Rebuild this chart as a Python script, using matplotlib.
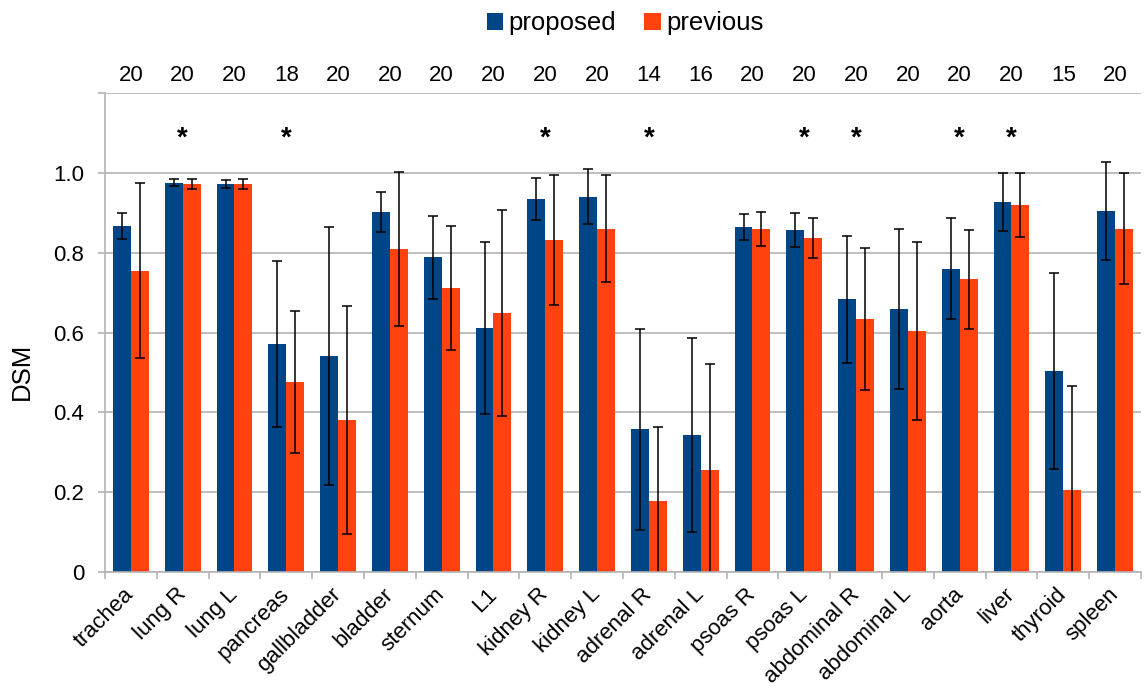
import numpy as np
import matplotlib
matplotlib.use("Agg")
import matplotlib.pyplot as plt
from matplotlib.transforms import blended_transform_factory, ScaledTranslation

plt.rcParams['font.family'] = ['Liberation Sans', 'DejaVu Sans']

organs = ["trachea", "lung R", "lung L", "pancreas", "gallbladder", "bladder",
          "sternum", "L1", "kidney R", "kidney L", "adrenal R", "adrenal L",
          "psoas R", "psoas L", "abdominal R", "abdominal L", "aorta", "liver",
          "thyroid", "spleen"]
n_cases = [20, 20, 20, 18, 20, 20, 20, 20, 20, 20, 14, 16, 20, 20, 20, 20, 20, 20, 15, 20]

proposed_mean = [0.867, 0.975, 0.972, 0.571, 0.541, 0.902, 0.788, 0.611, 0.935, 0.940,
                 0.358, 0.343, 0.865, 0.857, 0.683, 0.659, 0.760, 0.927, 0.504, 0.905]
proposed_sd = [0.032, 0.009, 0.011, 0.207, 0.324, 0.051, 0.103, 0.215, 0.052, 0.069,
               0.252, 0.242, 0.033, 0.043, 0.159, 0.200, 0.127, 0.073, 0.245, 0.123]

previous_mean = [0.755, 0.972, 0.972, 0.476, 0.381, 0.810, 0.712, 0.649, 0.832, 0.860,
                 0.178, 0.256, 0.860, 0.837, 0.634, 0.604, 0.733, 0.920, 0.206, 0.860]
previous_sd = [0.219, 0.013, 0.012, 0.179, 0.285, 0.193, 0.155, 0.257, 0.163, 0.134,
               0.185, 0.264, 0.043, 0.050, 0.178, 0.222, 0.125, 0.080, 0.261, 0.139]

significant = ["lung R", "pancreas", "kidney R", "adrenal R", "psoas L",
               "abdominal R", "aorta", "liver"]

BLUE = "#004586"
ORANGE = "#ff420e"
GRID = "#b3b3b3"
FS = 16

fig = plt.figure(figsize=(11.45, 6.89), dpi=100)
ax = fig.add_axes([0.0917, 0.1698, 0.9048, 0.6952])

x = np.arange(len(organs)) + 0.5
w = 0.345
err_kw = dict(ecolor="black", elinewidth=1.1, capsize=3.8, capthick=1.1)
ax.bar(x - w / 2, proposed_mean, w, color=BLUE, yerr=proposed_sd,
       error_kw=err_kw, label="proposed", zorder=2)
ax.bar(x + w / 2, previous_mean, w, color=ORANGE, yerr=previous_sd,
       error_kw=err_kw, label="previous", zorder=2)

ax.set_xlim(0, len(organs))
ax.set_ylim(0, 1.2)
ax.set_yticks([0, 0.2, 0.4, 0.6, 0.8, 1.0, 1.2])
ax.set_yticklabels(["0", "0.2", "0.4", "0.6", "0.8", "1.0", ""])
ax.yaxis.grid(True, color=GRID, linewidth=1.2, zorder=0)
ax.set_axisbelow(True)

# category boundaries carry the tick marks, names sit at the centres
ax.set_xticks(np.arange(len(organs) + 1))
ax.set_xticklabels([])
ax.set_xticks(x, minor=True)
ax.set_xticklabels(organs, minor=True, rotation=45, ha="right", va="center",
                   rotation_mode="anchor", fontsize=FS)
shift = ScaledTranslation(-6 / 100, 0, fig.dpi_scale_trans)
for lbl in ax.get_xticklabels(minor=True):
    lbl.set_transform(lbl.get_transform() + shift)
ax.tick_params(axis="x", which="minor", length=0, pad=14)
ax.tick_params(axis="x", which="major", length=5, color=GRID, width=1.2)
ax.tick_params(axis="y", length=5, color=GRID, width=1.2, pad=10, labelsize=FS)

for side in ["top", "right"]:
    ax.spines[side].set_visible(False)
for side in ["left", "bottom"]:
    ax.spines[side].set_color(GRID)
    ax.spines[side].set_linewidth(1.2)

ax.set_ylabel("DSM", fontsize=18.5)
ax.yaxis.set_label_coords(-0.069, 0.419)

trans = blended_transform_factory(ax.transData, ax.transAxes)
for xi, n in zip(x, n_cases):
    ax.text(xi, 1.015, str(n), transform=trans, ha="center", va="bottom",
            fontsize=FS, clip_on=False)

for xi, organ in zip(x, organs):
    if organ in significant:
        ax.text(xi, 1.085, "*", ha="center", va="center", fontsize=20,
                fontweight="bold")

fig.legend(loc="center", bbox_to_anchor=(0.546, 0.966), ncol=2,
           frameon=False, fontsize=18.5, handlelength=0.65, handleheight=0.6,
           handletextpad=0.2, columnspacing=1.1, borderpad=0, borderaxespad=0)

fig.savefig("out.png", dpi=100)
